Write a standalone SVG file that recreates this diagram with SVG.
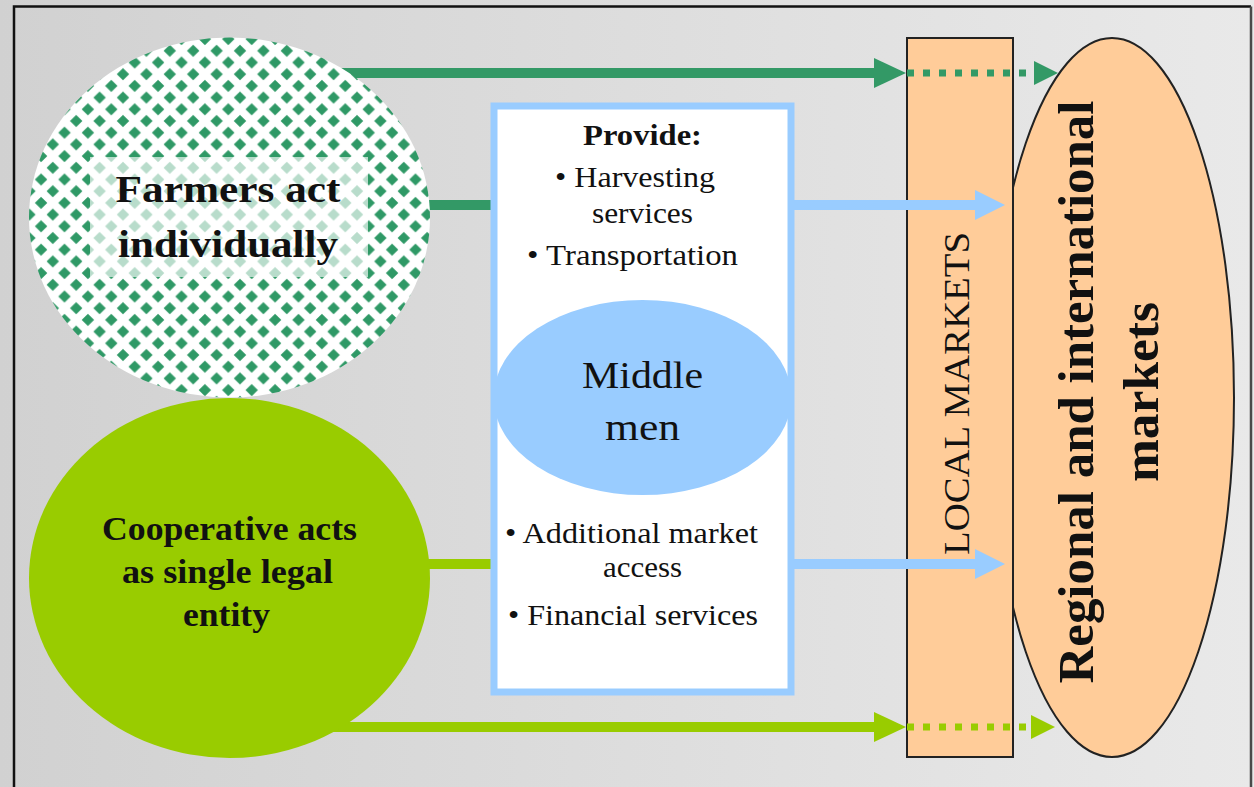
<svg xmlns="http://www.w3.org/2000/svg" width="1254" height="787" viewBox="0 0 1254 787">
  <defs>
    <linearGradient id="bg" x1="0" y1="0" x2="1" y2="0">
      <stop offset="0" stop-color="#d1d1d1"/>
      <stop offset="1" stop-color="#e9e9e9"/>
    </linearGradient>
    <!-- white ground with green diamonds in a staggered grid -->
    <pattern id="diamonds" width="23.4" height="23.4" patternUnits="userSpaceOnUse" x="6" y="4">
      <rect width="23.4" height="23.4" fill="#ffffff"/>
      <path fill="#2f9966" d="M11.7,5.5L17.9,11.7L11.7,17.9L5.5,11.7Z M0,-6.2L6.2,0L0,6.2L-6.2,0Z M23.4,-6.2L29.6,0L23.4,6.2L17.2,0Z M0,17.2L6.2,23.4L0,29.6L-6.2,23.4Z M23.4,17.2L29.6,23.4L23.4,29.6L17.2,23.4Z"/>
    </pattern>
    <marker id="head-dark" markerUnits="userSpaceOnUse" markerWidth="32" markerHeight="30" refX="0" refY="15" orient="auto">
      <path d="M0,0L32,15L0,30Z" fill="#339966"/>
    </marker>
    <marker id="head-lime" markerUnits="userSpaceOnUse" markerWidth="32" markerHeight="30" refX="0" refY="15" orient="auto">
      <path d="M0,0L32,15L0,30Z" fill="#99cc00"/>
    </marker>
    <marker id="head-blue" markerUnits="userSpaceOnUse" markerWidth="30" markerHeight="30" refX="0" refY="15" orient="auto">
      <path d="M0,0L30,15L0,30Z" fill="#99ccff"/>
    </marker>
    <marker id="dot-dark" markerUnits="userSpaceOnUse" markerWidth="24" markerHeight="24" refX="0" refY="12" orient="auto">
      <path d="M0,0L24,12L0,24Z" fill="#339966"/>
    </marker>
    <marker id="dot-lime" markerUnits="userSpaceOnUse" markerWidth="24" markerHeight="24" refX="0" refY="12" orient="auto">
      <path d="M0,0L24,12L0,24Z" fill="#99cc00"/>
    </marker>
    <style>
      .serif { font-family: "Liberation Serif", "Times New Roman", serif; fill: #111; }
      .bold { font-weight: bold; }
      .mid { text-anchor: middle; }
      .start { text-anchor: start; }
      .box-text { font-size: 30px; }
      .market { fill: #ffcc99; stroke: #222; stroke-width: 2; }
      .link { fill: none; stroke-width: 10; }
      .dotted { fill: none; stroke-width: 7; stroke-dasharray: 7 9; }
      .dark { stroke: #339966; }
      .lime { stroke: #99cc00; }
      .blue { stroke: #99ccff; }
    </style>
  </defs>

  <!-- backdrop and frame -->
  <rect x="0" y="0" width="1254" height="787" fill="url(#bg)"/>
  <path d="M14,787V6.5H1251" fill="none" stroke="#111" stroke-width="2.5"/>
  <path d="M1251,6.5V787" fill="none" stroke="#4a4a4a" stroke-width="2.5"/>

  <!-- regional and international markets -->
  <g id="regional-markets">
    <ellipse class="market" cx="1112" cy="397.5" rx="122" ry="359.5"/>
    <text class="serif bold mid" font-size="50" transform="translate(1093,392) rotate(-90)" textLength="583" lengthAdjust="spacingAndGlyphs">Regional and international</text>
    <text class="serif bold mid" font-size="50" transform="translate(1158,392) rotate(-90)" textLength="180" lengthAdjust="spacingAndGlyphs">markets</text>
  </g>

  <!-- local markets column -->
  <g id="local-markets">
    <rect class="market" x="907" y="38" width="106" height="719"/>
    <text class="serif mid" font-size="35" transform="translate(969,393.5) rotate(-90)" textLength="323" lengthAdjust="spacingAndGlyphs">LOCAL MARKETS</text>
  </g>

  <!-- connectors -->
  <g id="connectors">
    <line class="link dark" x1="300" y1="73" x2="874" y2="73" marker-end="url(#head-dark)"/>
    <line class="dotted dark" x1="907" y1="73" x2="1034" y2="73" marker-end="url(#dot-dark)"/>
    <line class="link dark" x1="400" y1="205" x2="492" y2="205"/>
    <line class="link blue" x1="792" y1="205" x2="975" y2="205" marker-end="url(#head-blue)"/>
    <line class="link lime" x1="400" y1="564" x2="492" y2="564"/>
    <line class="link blue" x1="792" y1="564" x2="975" y2="564" marker-end="url(#head-blue)"/>
    <line class="link lime" x1="300" y1="727" x2="874" y2="727" marker-end="url(#head-lime)"/>
    <line class="dotted lime" x1="907" y1="727" x2="1031" y2="727" marker-end="url(#dot-lime)"/>
  </g>

  <!-- farmers acting individually -->
  <g id="farmers">
    <ellipse cx="229.5" cy="217.5" rx="200.5" ry="180" fill="url(#diamonds)"/>
    <rect x="90" y="157" width="278" height="120" fill="#ffffff" fill-opacity="0.66"/>
    <text class="serif bold mid" font-size="37" x="228" y="202" textLength="225" lengthAdjust="spacingAndGlyphs">Farmers act</text>
    <text class="serif bold mid" font-size="37" x="228" y="257" textLength="220" lengthAdjust="spacingAndGlyphs">individually</text>
  </g>

  <!-- cooperative -->
  <g id="cooperative">
    <ellipse cx="229.5" cy="578" rx="200.5" ry="180" fill="#99cc00"/>
    <text class="serif bold mid" font-size="34" x="229.5" y="540" textLength="255" lengthAdjust="spacingAndGlyphs">Cooperative acts</text>
    <text class="serif bold mid" font-size="34" x="227.5" y="583" textLength="211" lengthAdjust="spacingAndGlyphs">as single legal</text>
    <text class="serif bold mid" font-size="34" x="226.5" y="626" textLength="87" lengthAdjust="spacingAndGlyphs">entity</text>
  </g>

  <!-- middle men and their services -->
  <g id="middle-men">
    <rect x="494" y="106" width="297" height="586" fill="#ffffff"/>
    <ellipse cx="642.5" cy="397.5" rx="149" ry="97.5" fill="#99ccff"/>
    <text class="serif bold mid box-text" x="642.5" y="145" textLength="119" lengthAdjust="spacingAndGlyphs">Provide:</text>
    <text class="serif start box-text" x="555" y="187" textLength="160" lengthAdjust="spacingAndGlyphs">• Harvesting</text>
    <text class="serif mid box-text" x="642.5" y="223" textLength="101" lengthAdjust="spacingAndGlyphs">services</text>
    <text class="serif start box-text" x="527" y="265" textLength="211" lengthAdjust="spacingAndGlyphs">• Transportation</text>
    <text class="serif mid" font-size="38" x="642.5" y="388" textLength="121" lengthAdjust="spacingAndGlyphs">Middle</text>
    <text class="serif mid" font-size="38" x="642.5" y="440" textLength="75" lengthAdjust="spacingAndGlyphs">men</text>
    <text class="serif start box-text" x="505" y="543" textLength="253" lengthAdjust="spacingAndGlyphs">• Additional market</text>
    <text class="serif mid box-text" x="642.5" y="577" textLength="79" lengthAdjust="spacingAndGlyphs">access</text>
    <text class="serif start box-text" x="508" y="625" textLength="250" lengthAdjust="spacingAndGlyphs">• Financial services</text>
    <rect x="494" y="106" width="297" height="586" fill="none" stroke="#99ccff" stroke-width="7"/>
  </g>
</svg>
